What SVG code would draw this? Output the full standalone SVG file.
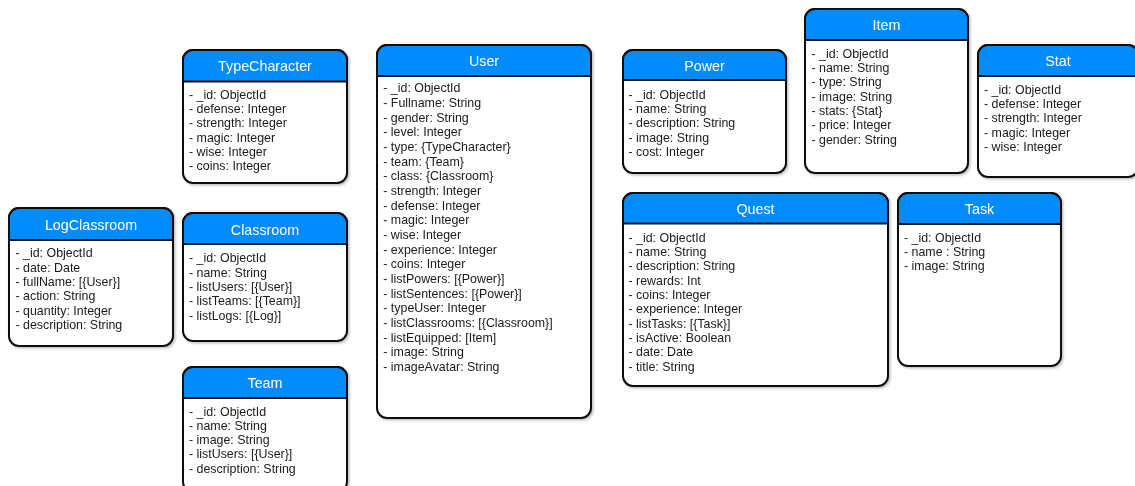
<svg xmlns="http://www.w3.org/2000/svg" width="1135" height="486" viewBox="0 0 1135 486">
<style>
.box{fill:#ffffff;stroke:#111111;stroke-width:2}
.hdr{fill:#008cff;stroke:#111111;stroke-width:2}
.ttl{font-family:"Liberation Sans",Arial,sans-serif;font-size:14.3px;fill:#ffffff;text-anchor:middle}
.fld{font-family:"Liberation Sans",Arial,sans-serif;font-size:12.4px;fill:#1a1a1a}
</style>
<defs>
<filter id="sh" x="-10%" y="-10%" width="130%" height="130%">
<feDropShadow dx="1.5" dy="1.5" stdDeviation="1" flood-color="#000000" flood-opacity="0.25"/>
</filter>
</defs>
<rect width="1135" height="486" fill="#ffffff"/>
<g id="connectors"/>

<g id="TypeCharacter" filter="url(#sh)">
<rect class="box" x="183" y="50" width="164" height="133" rx="10"/>
<path class="hdr" d="M183,81.5 V60 A10,10 0 0 1 193,50 H337 A10,10 0 0 1 347,60 V81.5 Z"/>
<text class="ttl" x="265" y="71">TypeCharacter</text>
<text class="fld" x="189" y="98.8">
<tspan x="189">- _id: ObjectId</tspan>
<tspan x="189" dy="14.33">- defense: Integer</tspan>
<tspan x="189" dy="14.33">- strength: Integer</tspan>
<tspan x="189" dy="14.33">- magic: Integer</tspan>
<tspan x="189" dy="14.33">- wise: Integer</tspan>
<tspan x="189" dy="14.33">- coins: Integer</tspan>
</text>
</g>

<g id="LogClassroom" filter="url(#sh)">
<rect class="box" x="9" y="208" width="164" height="138" rx="10"/>
<path class="hdr" d="M9,240 V218 A10,10 0 0 1 19,208 H163 A10,10 0 0 1 173,218 V240 Z"/>
<text class="ttl" x="91" y="230">LogClassroom</text>
<text class="fld" x="15.5" y="257.2">
<tspan x="15.5">- _id: ObjectId</tspan>
<tspan x="15.5" dy="14.33">- date: Date</tspan>
<tspan x="15.5" dy="14.33">- fullName: [{User}]</tspan>
<tspan x="15.5" dy="14.33">- action: String</tspan>
<tspan x="15.5" dy="14.33">- quantity: Integer</tspan>
<tspan x="15.5" dy="14.33">- description: String</tspan>
</text>
</g>

<g id="Classroom" filter="url(#sh)">
<rect class="box" x="183" y="213" width="164" height="128" rx="10"/>
<path class="hdr" d="M183,244 V223 A10,10 0 0 1 193,213 H337 A10,10 0 0 1 347,223 V244 Z"/>
<text class="ttl" x="265" y="235">Classroom</text>
<text class="fld" x="189" y="262.2">
<tspan x="189">- _id: ObjectId</tspan>
<tspan x="189" dy="14.33">- name: String</tspan>
<tspan x="189" dy="14.33">- listUsers: [{User}]</tspan>
<tspan x="189" dy="14.33">- listTeams: [{Team}]</tspan>
<tspan x="189" dy="14.33">- listLogs: [{Log}]</tspan>
</text>
</g>

<g id="Team" filter="url(#sh)">
<rect class="box" x="183" y="367" width="164" height="125" rx="10"/>
<path class="hdr" d="M183,398 V377 A10,10 0 0 1 193,367 H337 A10,10 0 0 1 347,377 V398 Z"/>
<text class="ttl" x="265" y="388.3">Team</text>
<text class="fld" x="189" y="415.5">
<tspan x="189">- _id: ObjectId</tspan>
<tspan x="189" dy="14.33">- name: String</tspan>
<tspan x="189" dy="14.33">- image: String</tspan>
<tspan x="189" dy="14.33">- listUsers: [{User}]</tspan>
<tspan x="189" dy="14.33">- description: String</tspan>
</text>
</g>

<g id="User" filter="url(#sh)">
<rect class="box" x="377" y="45" width="214" height="373" rx="10"/>
<path class="hdr" d="M377,76 V55 A10,10 0 0 1 387,45 H581 A10,10 0 0 1 591,55 V76 Z"/>
<text class="ttl" x="484" y="66">User</text>
<text class="fld" x="383.3" y="92.2">
<tspan x="383.3">- _id: ObjectId</tspan>
<tspan x="383.3" dy="14.68">- Fullname: String</tspan>
<tspan x="383.3" dy="14.68">- gender: String</tspan>
<tspan x="383.3" dy="14.68">- level: Integer</tspan>
<tspan x="383.3" dy="14.68">- type: {TypeCharacter}</tspan>
<tspan x="383.3" dy="14.68">- team: {Team}</tspan>
<tspan x="383.3" dy="14.68">- class: {Classroom}</tspan>
<tspan x="383.3" dy="14.68">- strength: Integer</tspan>
<tspan x="383.3" dy="14.68">- defense: Integer</tspan>
<tspan x="383.3" dy="14.68">- magic: Integer</tspan>
<tspan x="383.3" dy="14.68">- wise: Integer</tspan>
<tspan x="383.3" dy="14.68">- experience: Integer</tspan>
<tspan x="383.3" dy="14.68">- coins: Integer</tspan>
<tspan x="383.3" dy="14.68">- listPowers: [{Power}]</tspan>
<tspan x="383.3" dy="14.68">- listSentences: [{Power}]</tspan>
<tspan x="383.3" dy="14.68">- typeUser: Integer</tspan>
<tspan x="383.3" dy="14.68">- listClassrooms: [{Classroom}]</tspan>
<tspan x="383.3" dy="14.68">- listEquipped: [Item]</tspan>
<tspan x="383.3" dy="14.68">- image: String</tspan>
<tspan x="383.3" dy="14.68">- imageAvatar: String</tspan>
</text>
</g>

<g id="Power" filter="url(#sh)">
<rect class="box" x="623" y="50" width="163" height="123" rx="10"/>
<path class="hdr" d="M623,80 V60 A10,10 0 0 1 633,50 H776 A10,10 0 0 1 786,60 V80 Z"/>
<text class="ttl" x="704.5" y="71">Power</text>
<text class="fld" x="628.5" y="98.8">
<tspan x="628.5">- _id: ObjectId</tspan>
<tspan x="628.5" dy="14.33">- name: String</tspan>
<tspan x="628.5" dy="14.33">- description: String</tspan>
<tspan x="628.5" dy="14.33">- image: String</tspan>
<tspan x="628.5" dy="14.33">- cost: Integer</tspan>
</text>
</g>

<g id="Item" filter="url(#sh)">
<rect class="box" x="805" y="9" width="163" height="164" rx="10"/>
<path class="hdr" d="M805,40 V19 A10,10 0 0 1 815,9 H958 A10,10 0 0 1 968,19 V40 Z"/>
<text class="ttl" x="886.5" y="30">Item</text>
<text class="fld" x="811.5" y="57.8">
<tspan x="811.5">- _id: ObjectId</tspan>
<tspan x="811.5" dy="14.33">- name: String</tspan>
<tspan x="811.5" dy="14.33">- type: String</tspan>
<tspan x="811.5" dy="14.33">- image: String</tspan>
<tspan x="811.5" dy="14.33">- stats: {Stat}</tspan>
<tspan x="811.5" dy="14.33">- price: Integer</tspan>
<tspan x="811.5" dy="14.33">- gender: String</tspan>
</text>
</g>

<g id="Stat" filter="url(#sh)">
<rect class="box" x="978" y="45" width="160" height="132" rx="10"/>
<path class="hdr" d="M978,76 V55 A10,10 0 0 1 988,45 H1128 A10,10 0 0 1 1138,55 V76 Z"/>
<text class="ttl" x="1058" y="66">Stat</text>
<text class="fld" x="984" y="93.8">
<tspan x="984">- _id: ObjectId</tspan>
<tspan x="984" dy="14.33">- defense: Integer</tspan>
<tspan x="984" dy="14.33">- strength: Integer</tspan>
<tspan x="984" dy="14.33">- magic: Integer</tspan>
<tspan x="984" dy="14.33">- wise: Integer</tspan>
</text>
</g>

<g id="Quest" filter="url(#sh)">
<rect class="box" x="623" y="193" width="265" height="193" rx="10"/>
<path class="hdr" d="M623,223.5 V203 A10,10 0 0 1 633,193 H878 A10,10 0 0 1 888,203 V223.5 Z"/>
<text class="ttl" x="755.5" y="214">Quest</text>
<text class="fld" x="628.5" y="241.8">
<tspan x="628.5">- _id: ObjectId</tspan>
<tspan x="628.5" dy="14.3">- name: String</tspan>
<tspan x="628.5" dy="14.3">- description: String</tspan>
<tspan x="628.5" dy="14.3">- rewards: Int</tspan>
<tspan x="628.5" dy="14.3">- coins: Integer</tspan>
<tspan x="628.5" dy="14.3">- experience: Integer</tspan>
<tspan x="628.5" dy="14.3">- listTasks: [{Task}]</tspan>
<tspan x="628.5" dy="14.3">- isActive: Boolean</tspan>
<tspan x="628.5" dy="14.3">- date: Date</tspan>
<tspan x="628.5" dy="14.3">- title: String</tspan>
</text>
</g>

<g id="Task" filter="url(#sh)">
<rect class="box" x="898" y="193" width="163" height="173" rx="10"/>
<path class="hdr" d="M898,224 V203 A10,10 0 0 1 908,193 H1051 A10,10 0 0 1 1061,203 V224 Z"/>
<text class="ttl" x="979.5" y="214">Task</text>
<text class="fld" x="904" y="241.8">
<tspan x="904">- _id: ObjectId</tspan>
<tspan x="904" dy="14.3">- name : String</tspan>
<tspan x="904" dy="14.3">- image: String</tspan>
</text>
</g>
</svg>
